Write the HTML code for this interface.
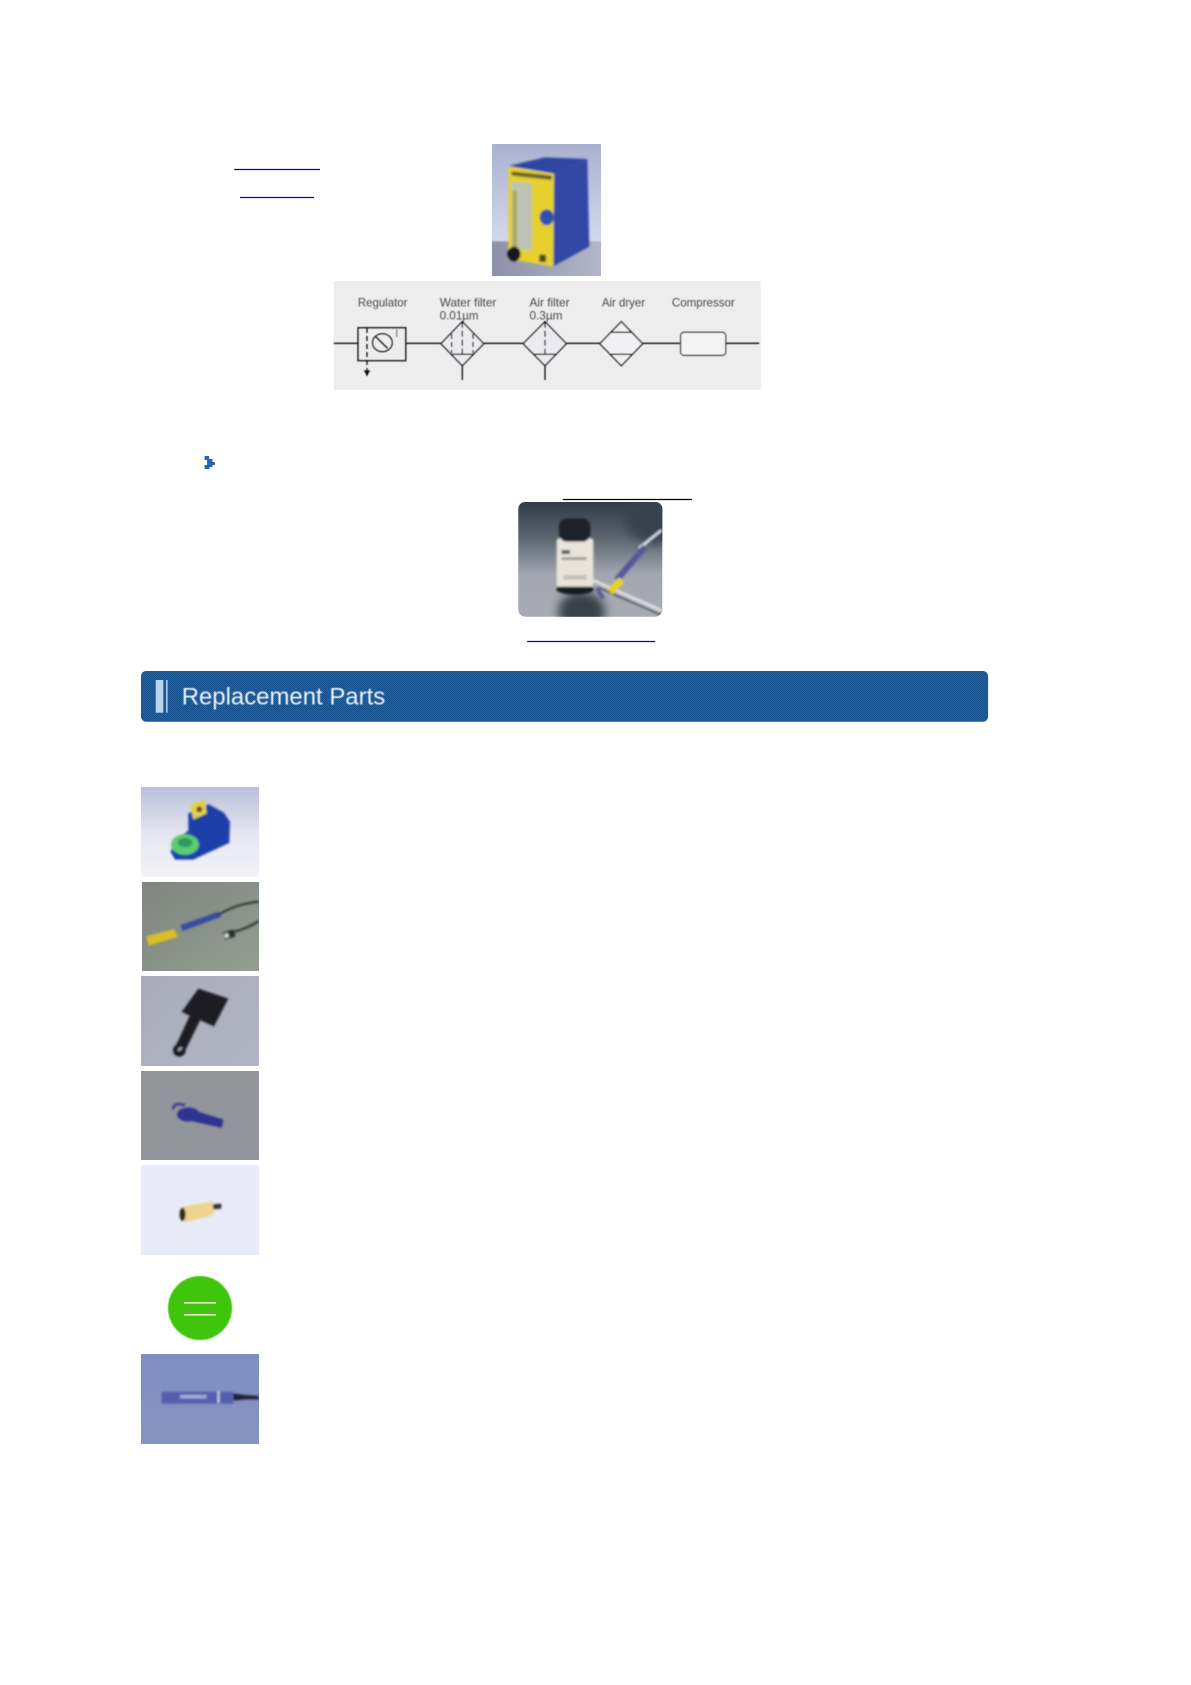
<!DOCTYPE html>
<html>
<head>
<meta charset="utf-8">
<style>
html,body{margin:0;padding:0;background:#fff;width:1191px;height:1685px;overflow:hidden}
svg{display:block}
text{font-family:"Liberation Sans",sans-serif}
</style>
</head>
<body>
<svg width="1191" height="1685" viewBox="0 0 1191 1685" xmlns="http://www.w3.org/2000/svg">
<defs>
<filter id="b2" x="-20%" y="-20%" width="140%" height="140%"><feGaussianBlur stdDeviation="2"/></filter>
<filter id="b3" x="-20%" y="-20%" width="140%" height="140%"><feGaussianBlur stdDeviation="3"/></filter>
<filter id="b6" x="-30%" y="-30%" width="160%" height="160%"><feGaussianBlur stdDeviation="6"/></filter>
<filter id="b14" x="-40%" y="-40%" width="180%" height="180%"><feGaussianBlur stdDeviation="14"/></filter>
<filter id="s" x="-5%" y="-5%" width="110%" height="110%"><feGaussianBlur stdDeviation="0.55"/></filter>
<filter id="s2" x="-5%" y="-20%" width="110%" height="140%"><feGaussianBlur stdDeviation="0.4"/></filter>
<linearGradient id="g1" x1="0" y1="0" x2="0" y2="1"><stop offset="0" stop-color="#a9b1d0"/><stop offset=".7" stop-color="#d2d8ea"/><stop offset="1" stop-color="#d8dcec"/></linearGradient>
<linearGradient id="gf" x1="0" y1="0" x2="1" y2="0"><stop offset="0" stop-color="#8c90a8"/><stop offset="1" stop-color="#b4b8c8"/></linearGradient>
<linearGradient id="g2" x1="0" y1="0" x2="0" y2="1"><stop offset="0" stop-color="#2f3947"/><stop offset=".3" stop-color="#59626e"/><stop offset=".62" stop-color="#a3a6b0"/><stop offset="1" stop-color="#a8abb3"/></linearGradient>
<linearGradient id="g3" x1="0" y1="0" x2="0" y2="1"><stop offset="0" stop-color="#bcbfda"/><stop offset=".55" stop-color="#e6e7f1"/><stop offset="1" stop-color="#f2f3f8"/></linearGradient>
<linearGradient id="g4" x1="0" y1="0" x2="1" y2="1"><stop offset="0" stop-color="#7d877e"/><stop offset="1" stop-color="#939d92"/></linearGradient>
<linearGradient id="g5" x1="0" y1="0" x2="1" y2="1"><stop offset="0" stop-color="#a8acba"/><stop offset="1" stop-color="#b1b4c4"/></linearGradient>
<linearGradient id="g7" x1="0" y1="0" x2="0" y2="1"><stop offset="0" stop-color="#7f8ec2"/><stop offset="1" stop-color="#8793c0"/></linearGradient>
<clipPath id="round"><rect x="518.300" y="502" width="144" height="114.700" rx="7"/></clipPath>
<pattern id="chk" width="2" height="2" patternUnits="userSpaceOnUse"><rect width="2" height="2" fill="#1c61aa"/><rect width="1" height="1" fill="#15528f"/><rect x="1" y="1" width="1" height="1" fill="#15528f"/></pattern>
</defs>

<!-- links -->
<line x1="234.200" y1="169.500" x2="320" y2="169.500" stroke="#0000d8" stroke-width="1.2"/>
<line x1="240" y1="197.500" x2="314" y2="197.500" stroke="#0000d8" stroke-width="1.2"/>

<!-- product photo -->
<svg x="492" y="144" width="109" height="132" viewBox="6 0 327 396" preserveAspectRatio="none">
<rect x="0" y="0" width="345" height="405" fill="url(#g1)"/>
<rect x="0" y="292" width="345" height="113" fill="url(#gf)" filter="url(#b2)"/>
<g filter="url(#b3)">
<polygon points="190,88 292,45 298,308 188,368" fill="#3347a6"/>
<polygon points="55,66 165,40 292,45 190,88" fill="#2f44a3"/>
<polygon points="55,68 192,90 190,368 55,345" fill="#e6d02e"/>
<polygon points="65,82 185,95 185,108 65,95" fill="#6a6030"/>
<polygon points="65,112 125,118 125,320 65,312" fill="#bcc3b4"/>
<polygon points="68,140 80,140 80,312 68,310" fill="#a8a850"/>
<ellipse cx="170" cy="220" rx="21" ry="24" fill="#2f4fb0"/>
<ellipse cx="72" cy="330" rx="20" ry="22" fill="#17171c"/>
<rect x="148" y="332" width="20" height="22" fill="#4a4628"/>
</g>
</svg>

<!-- flow diagram -->
<rect x="333.800" y="281" width="427" height="109" fill="#ededed"/>
<g filter="url(#s)" fill="none" stroke="#111" stroke-width="1.3">
<line x1="333.800" y1="343.300" x2="358" y2="343.300"/>
<rect x="358" y="327.700" width="47.800" height="33"/>
<line x1="405.800" y1="343.300" x2="441" y2="343.300"/>
<ellipse cx="382.400" cy="342.700" rx="9.900" ry="9" stroke-width="1.1"/>
<line x1="375.700" y1="336.700" x2="387.600" y2="348.300"/>
<line x1="367" y1="328" x2="367" y2="372" stroke-dasharray="5 3"/>
<line x1="396.700" y1="329" x2="396.700" y2="337" stroke="#888"/>
<polygon points="365,371 369,371 367,375" fill="#111"/>
<polygon points="441,343.700 462.300,321.700 483.700,343.700 462.300,365.700" fill="#eaeaf0"/>
<line x1="451" y1="354.300" x2="473.500" y2="354.300"/>
<line x1="462.300" y1="321.700" x2="462.300" y2="354" stroke-dasharray="6 3"/>
<line x1="451.600" y1="334" x2="451.600" y2="353" stroke-dasharray="5 3"/>
<line x1="473" y1="334" x2="473" y2="353" stroke-dasharray="5 3"/>
<line x1="462.300" y1="365.700" x2="462.300" y2="380"/>
<line x1="483.700" y1="343.300" x2="523.200" y2="343.300"/>
<polygon points="523.200,343.700 545,321.700 566.300,343.700 545,365.700" fill="#eaeaf0"/>
<line x1="534" y1="354.300" x2="556" y2="354.300"/>
<line x1="545" y1="321.700" x2="545" y2="354" stroke-dasharray="6 3"/>
<line x1="545" y1="365.700" x2="545" y2="380"/>
<line x1="566.300" y1="343.300" x2="599.900" y2="343.300"/>
<polygon points="599.900,343.700 621.300,321.700 642.600,343.700 621.300,365.700" fill="#f1f1f4"/>
<line x1="610.600" y1="332.300" x2="632" y2="332.300"/>
<line x1="610.600" y1="354.300" x2="632" y2="354.300"/>
<line x1="642.600" y1="343.300" x2="680.600" y2="343.300"/>
<rect x="680.600" y="332.300" width="45.100" height="23" rx="3.500" fill="#f4f4f4" stroke="#444"/>
<line x1="725.700" y1="343.300" x2="759.300" y2="343.300"/>
</g>
<g filter="url(#s)" font-size="12" fill="#4a4a4a">
<text x="357.900" y="306.500" textLength="49.500" lengthAdjust="spacingAndGlyphs">Regulator</text>
<text x="439.800" y="306.500" textLength="56.500" lengthAdjust="spacingAndGlyphs">Water filter</text>
<text x="439.800" y="319.300" textLength="38.700" lengthAdjust="spacingAndGlyphs">0.01µm</text>
<text x="529.500" y="306.500" textLength="40" lengthAdjust="spacingAndGlyphs">Air filter</text>
<text x="529.500" y="319.300" textLength="32.900" lengthAdjust="spacingAndGlyphs">0.3µm</text>
<text x="601.900" y="306.500" textLength="43.100" lengthAdjust="spacingAndGlyphs">Air dryer</text>
<text x="671.900" y="306.500" textLength="62.900" lengthAdjust="spacingAndGlyphs">Compressor</text>
</g>

<!-- bullet -->
<path d="M204.600 456h4.500v3h3.400v3h2.500v3h-2.500v2h-3v2h-4.900v-4h2.500v-5h-2.500z" fill="#2a63b5"/>

<!-- underlines -->
<line x1="562.800" y1="499.500" x2="692" y2="499.500" stroke="#000" stroke-width="1.2"/>
<line x1="527.200" y1="641.500" x2="655.200" y2="641.500" stroke="#0000d8" stroke-width="1.2"/>

<!-- bottle photo -->
<g clip-path="url(#round)">
<svg x="515" y="500" width="150" height="120" viewBox="0 0 450 360" preserveAspectRatio="none">
<rect x="0" y="0" width="450" height="360" fill="url(#g2)"/>
<ellipse cx="200" cy="335" rx="70" ry="60" fill="#39404a" filter="url(#b14)"/>
<ellipse cx="420" cy="60" rx="90" ry="70" fill="#39424e" filter="url(#b14)"/>
<g filter="url(#b3)">
<ellipse cx="180" cy="268" rx="56" ry="16" fill="#181c20"/>
<rect x="125" y="115" width="110" height="145" rx="8" fill="#e8e4da"/>
<rect x="132" y="55" width="94" height="70" rx="24" fill="#1e2229"/>
<rect x="140" y="150" width="25" height="12" fill="#5a5452"/>
<rect x="140" y="172" width="75" height="8" fill="#98948e"/>
<rect x="145" y="225" width="70" height="14" fill="#c2c0b8"/>
<line x1="232" y1="240" x2="440" y2="332" stroke="#dcdce0" stroke-width="10"/>
<line x1="250" y1="262" x2="440" y2="345" stroke="#3a3d44" stroke-width="4"/>
<line x1="440" y1="90" x2="372" y2="145" stroke="#d4d8e0" stroke-width="10"/>
<line x1="390" y1="140" x2="305" y2="240" stroke="#57569e" stroke-width="18"/>
<line x1="320" y1="240" x2="285" y2="275" stroke="#e6d226" stroke-width="22"/>
<line x1="245" y1="265" x2="265" y2="295" stroke="#5d5c98" stroke-width="12"/>
</g>
</svg>
</g>

<!-- banner -->
<rect x="141" y="671" width="847.100" height="50.700" rx="5" fill="url(#chk)"/>
<rect x="155.700" y="680" width="7.600" height="32.700" fill="#b8d4ee"/>
<rect x="166" y="680" width="1.700" height="32.700" fill="#a0c2e4"/>
<text x="181.700" y="704.500" font-size="24" fill="#eef4fb" textLength="203.500" lengthAdjust="spacingAndGlyphs" filter="url(#s2)">Replacement Parts</text>

<!-- thumb 1 -->
<svg x="141" y="787" width="118" height="90" viewBox="33 21 354 269" preserveAspectRatio="none">
<rect x="33" y="21" width="354" height="269" fill="url(#g3)"/>
<g filter="url(#b3)">
<path d="M175 100 L235 72 L282 98 L300 125 L298 188 L190 238 L135 238 L122 215 L135 178 L175 152Z" fill="#1f3fa8"/>
<ellipse cx="165" cy="193" rx="42" ry="31" fill="#5ccb72"/>
<ellipse cx="165" cy="187" rx="22" ry="14" fill="#2e9a5b"/>
<polygon points="180,72 225,60 230,100 190,118" fill="#e2d04a"/>
<circle cx="208" cy="88" r="9" fill="#6b5410"/>
</g>
</svg>

<!-- thumb 2 -->
<svg x="142" y="882" width="117" height="89" viewBox="35 306 350 266" preserveAspectRatio="none">
<rect x="35" y="306" width="350" height="266" fill="url(#g4)"/>
<g filter="url(#b3)">
<polygon points="48,468 132,447 142,470 54,497" fill="#d8be2a"/>
<polygon points="150,435 264,394 272,410 156,453" fill="#3a4ca0"/>
<path d="M265 403 Q320 370 385 365" fill="none" stroke="#1a1c1c" stroke-width="5"/>
<path d="M310 455 Q350 445 385 422" fill="none" stroke="#1a1c1c" stroke-width="5"/>
<rect x="280" y="452" width="32" height="22" fill="#2a2a2a" transform="rotate(-18 296 463)"/>
<circle cx="288" cy="466" r="7" fill="#d8d8d0"/>
</g>
</svg>

<!-- thumb 3 -->
<svg x="141" y="976" width="118" height="90" viewBox="33 587 354 270" preserveAspectRatio="none">
<rect x="33" y="587" width="354" height="270" fill="url(#g5)"/>
<g filter="url(#b3)">
<polygon points="205,625 295,655 252,738 155,695" fill="#1b1a22"/>
<polygon points="182,700 212,716 162,818 132,808" fill="#1b1a22"/>
<circle cx="148" cy="810" r="19" fill="#1b1a22"/>
<ellipse cx="150" cy="806" rx="8" ry="4" fill="#a8acba" transform="rotate(-40 150 806)"/>
</g>
</svg>

<!-- thumb 4 -->
<svg x="141" y="1071" width="118" height="89" viewBox="33 33 354 266" preserveAspectRatio="none">
<rect x="33" y="33" width="354" height="266" fill="#92959c"/>
<g filter="url(#b3)">
<ellipse cx="175" cy="163" rx="34" ry="21" fill="#2d3290"/>
<polygon points="190,150 280,178 276,203 190,184" fill="#2d3290"/>
<path d="M130 148 Q128 125 165 135" fill="none" stroke="#2d3290" stroke-width="7"/>
</g>
</svg>

<!-- thumb 5 -->
<svg x="141" y="1165" width="118" height="90" viewBox="33 315 354 270" preserveAspectRatio="none">
<rect x="33" y="315" width="354" height="270" fill="#e8ebf7"/>
<g filter="url(#b3)">
<polygon points="158,440 248,424 252,465 163,487" fill="#edd590"/>
<ellipse cx="158" cy="463" rx="9" ry="20" fill="#2a2018"/>
<polygon points="248,433 274,431 274,446 250,448" fill="#333"/>
</g>
</svg>

<!-- thumb 6 -->
<circle cx="200" cy="1308" r="32" fill="#3fc50d" filter="url(#s)"/>
<rect x="184" y="1302" width="32" height="1.600" fill="#e6f6c8"/>
<rect x="184" y="1314" width="32" height="1.600" fill="#e6f6c8"/>

<!-- thumb 7 -->
<svg x="141" y="1354" width="118" height="90" viewBox="33 882 354 270" preserveAspectRatio="none">
<rect x="33" y="882" width="354" height="270" fill="url(#g7)"/>
<g filter="url(#b3)">
<rect x="95" y="995" width="215" height="36" fill="#565eae"/>
<rect x="150" y="1005" width="80" height="10" fill="#a8aed8"/>
<rect x="263" y="993" width="5" height="36" fill="#dfe2f2"/>
<polygon points="310,1000 345,1005 387,1008 387,1018 345,1018 310,1022" fill="#1c2230"/>
</g>
</svg>
</svg>
</body>
</html>
